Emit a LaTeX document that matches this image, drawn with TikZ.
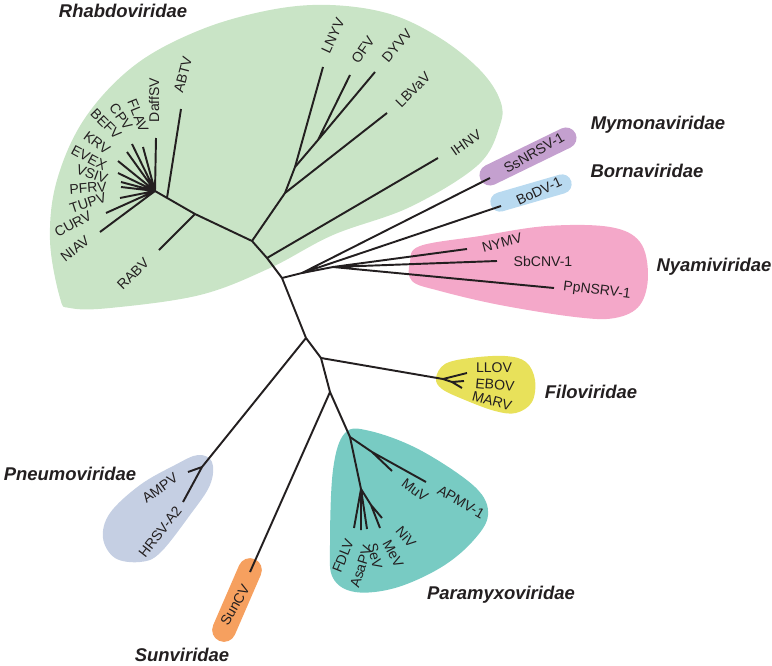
\documentclass[tikz,border=0pt]{standalone}
\usepackage{fontspec}
\setmainfont{Liberation Sans}
\usepackage{tikz}
\usetikzlibrary{calc}

\definecolor{rhabdo}{RGB}{201,228,198}
\definecolor{mymona}{RGB}{196,160,207}
\definecolor{borna}{RGB}{185,218,240}
\definecolor{nyami}{RGB}{244,168,201}
\definecolor{filo}{RGB}{232,225,90}
\definecolor{paramyxo}{RGB}{120,203,195}
\definecolor{pneumo}{RGB}{197,207,227}
\definecolor{sun}{RGB}{246,160,95}
\definecolor{ink}{RGB}{35,31,32}

\begin{document}
\begin{tikzpicture}[x=0.02cm,y=-0.02cm]
	\tikzstyle{branch} = [draw=ink, line width=1.1pt]
	\tikzstyle{leaf} = [inner sep=0pt, text=ink, font=\fontsize{8}{9}\selectfont]
	\tikzstyle{family} = [inner sep=0pt, text=ink, font=\fontsize{10.5}{12}\selectfont\bfseries\itshape]
	\tikzstyle{capsule} = [line cap=round]
	
	\useasboundingbox (0,0) rectangle (772,666);
	
	% clade backgrounds
	\fill[rhabdo] plot[smooth cycle, tension=0.6] coordinates {(60,298) (50,240) (57,180) (85,118) (135,65) (200,30) (270,10) (330,5) (390,14) (440,38) (480,70) (500,100) (500,125) (478,165) (410,207) (333,235) (270,268) (200,295) (110,308) (70,308)};
	\fill[nyami] plot[smooth cycle, tension=0.6] coordinates {(410,262) (420,246) (480,236) (547,226) (610,227) (640,242) (648,275) (640,305) (615,318) (575,317) (500,305) (440,291) (412,281)};
	\fill[filo] plot[smooth cycle, tension=0.6] coordinates {(436,378) (445,364) (470,358) (505,356) (526,362) (535,380) (532,402) (516,413) (495,411) (465,400) (442,389)};
	\fill[paramyxo] plot[smooth cycle, tension=0.6] coordinates {(345,433) (370,431) (420,450) (475,487) (488,515) (472,542) (440,568) (395,588) (355,592) (333,578) (330,545) (333,470)};
	\fill[pneumo] plot[smooth cycle, tension=0.6] coordinates {(198,455) (212,462) (210,485) (190,515) (160,553) (140,562) (115,558) (103,538) (110,513) (140,485) (175,465)};
	\draw[capsule, mymona, line width=12pt] (490,175) -- (566,138);
	\draw[capsule, borna, line width=11pt] (500,202) -- (562,184);
	\draw[capsule, sun, line width=13.5pt] (250,570) -- (224,630);
	
	% inner nodes
	\coordinate (A) at (155,191);
	\coordinate (B) at (195,214);
	\coordinate (abtvj) at ($(A)!0.3!(B)$);
	\coordinate (C) at (252,241);
	\coordinate (F) at (285,193);
	\coordinate (G) at (295,167);
	\coordinate (H) at (318,140);
	\coordinate (D) at (267,258);
	\coordinate (E) at (282,278);
	\coordinate (M) at (302,273);
	\coordinate (N) at (333,267);
	\coordinate (P) at (306,338);
	\coordinate (Pn) at (202,467);
	\coordinate (Q) at (321,358);
	\coordinate (Fi) at (443,379);
	\coordinate (Fi2) at (452,382);
	\coordinate (R) at (330,392);
	\coordinate (S) at (350,437);
	\coordinate (T) at (372,452);
	\coordinate (U) at (361,489);
	\coordinate (V) at (371,505);
	
	% tips
	\coordinate (niav) at (100,232);
	\coordinate (curv) at (106,213);
	\coordinate (tupv) at (120,198);
	\coordinate (pfrv) at (121,187);
	\coordinate (vsiv) at (121,182);
	\coordinate (evex) at (118,173);
	\coordinate (krv) at (118,161);
	\coordinate (befv) at (127,152);
	\coordinate (cpv) at (132,144);
	\coordinate (flav) at (143,147);
	\coordinate (daffsv) at (156,138);
	\coordinate (abtv) at (181,109);
	\coordinate (rabv) at (159,250);
	\coordinate (lnyv) at (323,67);
	\coordinate (ofv) at (350,75);
	\coordinate (dyvv) at (375,72);
	\coordinate (lbvav) at (387,113);
	\coordinate (ihnv) at (438,158);
	\coordinate (ssnrsv) at (490,178);
	\coordinate (bodv) at (501,206);
	\coordinate (nymv) at (467,249);
	\coordinate (sbcnv) at (497,261);
	\coordinate (ppnsrv) at (554,288);
	\coordinate (ampv) at (188,472);
	\coordinate (hrsv) at (183,502);
	\coordinate (llov) at (467,373);
	\coordinate (ebov) at (464,381);
	\coordinate (marv) at (462,388);
	\coordinate (suncv) at (250,572);
	\coordinate (muv) at (392,471);
	\coordinate (apmv) at (426,482);
	\coordinate (fdlv) at (354,528);
	\coordinate (asapv) at (361,530);
	\coordinate (sev) at (367,529);
	\coordinate (mev) at (380,528);
	\coordinate (niv) at (382,518);
	
	% branches
	\draw[branch] (A) -- (B) -- (C) -- (D) -- (E) -- (P) -- (Q) -- (R) -- (S);
	\draw[branch] (A) -- (niav) (A) -- (curv) (A) -- (tupv) (A) -- (pfrv) (A) -- (vsiv) (A) -- (evex) (A) -- (krv) (A) -- (befv) (A) -- (cpv) (A) -- (flav) (A) -- (daffsv);
	\draw[branch] (abtvj) -- (abtv);
	\draw[branch] (B) -- (rabv);
	\draw[branch] (C) -- (F) -- (G) -- (lnyv);
	\draw[branch] (G) -- (H) -- (ofv) (H) -- (dyvv);
	\draw[branch] (F) -- (lbvav);
	\draw[branch] (D) -- (ihnv);
	\draw[branch] (E) -- (M) -- (N);
	\draw[branch] (M) -- (ssnrsv) (M) -- (bodv);
	\draw[branch] (N) -- (nymv) (N) -- (sbcnv) (N) -- (ppnsrv);
	\draw[branch] (P) -- (Pn) -- (ampv) (Pn) -- (hrsv);
	\draw[branch] (Q) -- (Fi) -- (llov) (Fi) -- (Fi2) -- (ebov) (Fi2) -- (marv);
	\draw[branch] (R) -- (suncv);
	\draw[branch] (S) -- (T) -- (muv) (T) -- (apmv);
	\draw[branch] (S) -- (U) -- (fdlv) (U) -- (asapv) (U) -- (sev) (U) -- (V) -- (mev) (V) -- (niv);
	
	% tip labels
	\node[leaf, rotate=38] (lniav) at (75,249) {NIAV};
	\node[leaf, rotate=28] (lcurv) at (73,224) {CURV};
	\node[leaf, rotate=18] (ltupv) at (88,203) {TUPV};
	\node[leaf, rotate=4] (lpfrv) at (88,188) {PFRV};
	\node[leaf, rotate=-20] (lvsiv) at (92,174) {VSIV};
	\node[leaf, rotate=-28] (levex) at (89,158) {EVEX};
	\node[leaf, rotate=-37] (lkrv) at (97,143) {KRV};
	\node[leaf, rotate=-45] (lbefv) at (106,124) {BEFV};
	\node[leaf, rotate=-55] (lcpv) at (121,117) {CPV};
	\node[leaf, rotate=-68] (lflav) at (138,116) {FLAV};
	\node[leaf, rotate=90] (ldaffsv) at (154,100) {DaffSV};
	\node[leaf, rotate=75] (labtv) at (183,75) {ABTV};
	\node[leaf, rotate=45] (lrabv) at (133,274) {RABV};
	\node[leaf, rotate=65] (llnyv) at (333,36) {LNYV};
	\node[leaf, rotate=55] (lofv) at (363,50) {OFV};
	\node[leaf, rotate=50] (ldyvv) at (397,46) {DYVV};
	\node[leaf, rotate=45] (llbvav) at (413,90) {LBVaV};
	\node[leaf, rotate=35] (lihnv) at (466,143) {IHNV};
	\node[leaf, rotate=30] (lssnrsv) at (534,153) {SsNRSV-1};
	\node[leaf, rotate=25] (lbodv) at (539,191) {BoDV-1};
	\node[leaf, rotate=15] (lnymv) at (502,243) {NYMV};
	\node[leaf] (lsbcnv) at (543,261) {SbCNV-1};
	\node[leaf, rotate=-7] (lppnsrv) at (597,291) {PpNSRV-1};
	\node[leaf] (lllov) at (494,368) {LLOV};
	\node[leaf, rotate=-5] (lebov) at (495,385) {EBOV};
	\node[leaf, rotate=-15] (lmarv) at (492,401) {MARV};
	\node[leaf, rotate=36] (lampv) at (160,488) {AMPV};
	\node[leaf, rotate=52] (lhrsv) at (160,532) {HRSV-A2};
	\node[leaf, rotate=60] (lsuncv) at (235,605) {SunCV};
	\node[leaf, rotate=-37] (lmuv) at (415,490) {MuV};
	\node[leaf, rotate=-30] (lapmv) at (461,502) {APMV-1};
	\node[leaf, rotate=68] (lfdlv) at (343,556) {FDLV};
	\node[leaf, rotate=72] (lasapv) at (361,567) {AsaPV};
	\node[leaf, rotate=-78] (lsev) at (375,556) {SeV};
	\node[leaf, rotate=-62] (lmev) at (393,554) {MeV};
	\node[leaf, rotate=-50] (lniv) at (406,537) {NiV};
	
	% family labels
	\node[family] (frhabdo) at (123,11) {Rhabdoviridae};
	\node[family] (fmymona) at (658,125) {Mymonaviridae};
	\node[family] (fborna) at (647,171) {Bornaviridae};
	\node[family] (fnyami) at (714,267) {Nyamiviridae};
	\node[family] (ffilo) at (591,392) {Filoviridae};
	\node[family] (fpneumo) at (70,474) {Pneumoviridae};
	\node[family] (fsun) at (182,655) {Sunviridae};
	\node[family] (fparamyxo) at (501,595) {Paramyxoviridae};
	
\end{tikzpicture}
\end{document}
